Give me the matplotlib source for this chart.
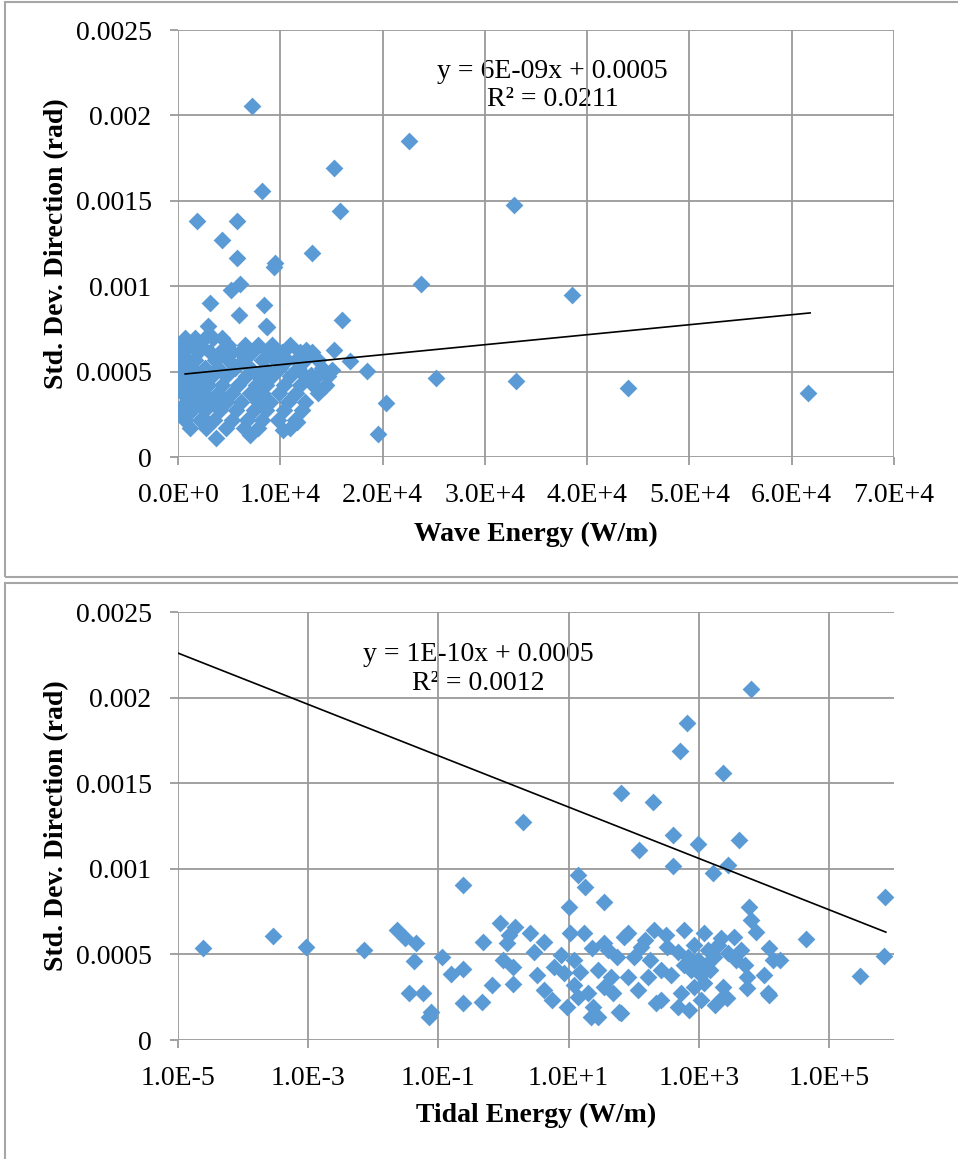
import numpy as np
import matplotlib.pyplot as plt
from matplotlib.patches import Rectangle
from matplotlib.ticker import FixedLocator, FixedFormatter, NullLocator

# Wave energy (W/m) vs std. dev. of direction (rad)
wave_x = [7230, 22580, 15250, 1860, 5770, 8210, 15840, 32840, 4300, 5770,
          13100, 9480, 9380, 23750, 38500, 3130, 8410, 6060, 5180, 5960,
          8600, 16030, 2930, 12510, 15250, 16810, 15050, 18470, 25220, 33040,
          43990, 61580, 20330, 19550, 3710, 7040, 14270, 13000, 11630, 10260,
          8700,
          680, 1660, 2640, 3420, 4300,
          390, 1170, 2150, 4890, 6550, 7820, 9190, 10950,
          590, 1960, 3130, 4110, 5280, 6060, 7230, 8800, 10170, 11930, 13100,
          200, 980, 1660, 3620, 4890, 6350, 8210, 9480, 10660, 11540, 12410, 13690,
          490, 1370, 2640, 3910, 5570, 7040, 8500, 9970, 11730, 14080,
          290, 1080, 2150, 3320, 4690, 6650, 7820, 9190, 10950, 12410, 13590, 14660,
          590, 1760, 2930, 4300, 5870, 7620, 8600, 10360, 11930, 13200, 14470,
          390, 1170, 2540, 3910, 5280, 7040, 8210, 9870, 11540, 13690,
          780, 1960, 3320, 4690, 6160, 7820, 8990, 10750, 12410,
          200, 1370, 2640, 4110, 5670, 7430, 8600, 10360, 12120,
          680, 2150, 3520, 5280, 6740, 8210, 9770, 11440,
          1170, 2740, 4690, 6450, 7820, 10950,
          391, 684, 2639]
wave_y = [0.002055, 0.00185, 0.00169, 0.00138, 0.00138, 0.001557, 0.00144, 0.001475, 0.00127, 0.001165,
          0.001194, 0.001136, 0.00111, 0.00101, 0.000948, 0.000902, 0.00089, 0.00101, 0.00098, 0.00083,
          0.000767, 0.000802, 0.000767, 0.000627, 0.000627, 0.000562, 0.000509, 0.000503, 0.000463, 0.000445,
          0.000404, 0.000375, 0.000316, 0.000135, 0.000111, 0.00013, 0.00041, 0.00048, 0.000205, 0.000158,
          0.00076,
          0.000697, 0.000697, 0.000697, 0.000697, 0.000697,
          0.000656, 0.000656, 0.000656, 0.000656, 0.000656, 0.000656, 0.000656, 0.000656,
          0.000615, 0.000615, 0.000615, 0.000615, 0.000615, 0.000615, 0.000615, 0.000615, 0.000615, 0.000615, 0.000615,
          0.000568, 0.000568, 0.000568, 0.000568, 0.000568, 0.000568, 0.000568, 0.000568, 0.000568, 0.000568, 0.000568, 0.000568,
          0.000521, 0.000521, 0.000521, 0.000521, 0.000521, 0.000521, 0.000521, 0.000521, 0.000521, 0.000521,
          0.000474, 0.000474, 0.000474, 0.000474, 0.000474, 0.000474, 0.000474, 0.000474, 0.000474, 0.000474, 0.000474, 0.000474,
          0.000422, 0.000422, 0.000422, 0.000422, 0.000422, 0.000422, 0.000422, 0.000422, 0.000422, 0.000422, 0.000422,
          0.000375, 0.000375, 0.000375, 0.000375, 0.000375, 0.000375, 0.000375, 0.000375, 0.000375, 0.000375,
          0.000322, 0.000322, 0.000322, 0.000322, 0.000322, 0.000322, 0.000322, 0.000322, 0.000322,
          0.000275, 0.000275, 0.000275, 0.000275, 0.000275, 0.000275, 0.000275, 0.000275, 0.000275,
          0.000217, 0.000217, 0.000217, 0.000217, 0.000217, 0.000217, 0.000217, 0.000217,
          0.00017, 0.00017, 0.00017, 0.00017, 0.00017, 0.00017,
          0.000258, 0.000217, 0.000217]

# Tidal energy (W/m) vs std. dev. of direction (rad)
tidal_x = [2.4e-5, 2.9e-4, 9.3e-4, 7.2e-3, 0.023, 0.031, 0.045, 0.042, 0.035, 0.059,
           0.078, 0.073, 0.115, 0.243, 0.158, 0.243, 0.243, 0.46, 0.66, 1.38,
           0.89, 1.5, 0.48, 1.2, 1.15, 2.6, 4.2, 2.9, 1.0, 1.38,
           3.3, 5.9, 8.4, 9.6, 13.8, 19.6, 24, 28, 22, 59,
           10.7, 17, 35, 70, 28, 45, 35, 49, 12, 15,
           2.0, 13.8, 18, 35, 10, 65, 195, 120, 400, 400,
           650, 510, 960, 1650, 2800, 2350, 4150, 6300, 7.2e5, 4.5e4,
           7.1e5, 3.0e5, 5900, 6300, 7600, 1.2e4, 1.4e4, 1.0e4, 1.2e4, 5600,
           2700, 81, 204, 590, 1200, 2200, 3500, 100, 130, 330,
           480, 680, 960, 1380, 1700, 2800, 4500, 81, 115, 165,
           260, 480, 840, 1200, 2400, 2400, 5600, 1.15e4, 1.8e4, 63,
           525, 760, 1070, 1500, 260, 180, 56, 40, 23, 7.6,
           12, 5.6, 4.2, 220, 1070, 1800, 700, 370, 3700, 5200,
           840, 1280, 590, 1950, 150, 310]
tidal_y = [0.000537, 0.000607, 0.000543, 0.000526, 0.000643, 0.000596, 0.000567, 0.000461, 0.000275, 0.000275,
           0.000164, 0.000134, 0.000485, 0.000905, 0.000386, 0.000415, 0.000216, 0.000222, 0.000321, 0.000327,
           0.000683, 0.00066, 0.000572, 0.000613, 0.000567, 0.000625, 0.000572, 0.000514, 0.000467, 0.000426,
           0.00038, 0.000426, 0.000391, 0.000193, 0.000251, 0.000275, 0.000193, 0.000134, 0.000134, 0.000164,
           0.000625, 0.000625, 0.000567, 0.000602, 0.000409, 0.000368, 0.00031, 0.000275, 0.000467, 0.000397,
           0.001273, 0.000964, 0.000894, 0.000806, 0.000777, 0.001443, 0.00139, 0.00111, 0.0012, 0.001016,
           0.00185, 0.001688, 0.001145, 0.000975, 0.001022, 0.00156, 0.001168, 0.00205, 0.000835, 0.00059,
           0.00049, 0.000374, 0.000777, 0.0007, 0.00063, 0.000537, 0.000467, 0.00038, 0.000263, 0.000304,
           0.000245, 0.000625, 0.000643, 0.000643, 0.000625, 0.000596, 0.000602, 0.000485, 0.000543, 0.000543,
           0.000514, 0.000485, 0.000467, 0.000526, 0.000485, 0.000508, 0.000526, 0.000368, 0.000292, 0.000368,
           0.000234, 0.000193, 0.00031, 0.000333, 0.00031, 0.000251, 0.000368, 0.000275, 0.000467, 0.000158,
           0.000275, 0.000409, 0.00038, 0.000409, 0.000409, 0.000467, 0.000485, 0.000526, 0.000537, 0.000497,
           0.000321, 0.000234, 0.000292, 0.000216, 0.000234, 0.000204, 0.000175, 0.00038, 0.000467, 0.000438,
           0.000555, 0.000438, 0.000438, 0.000555, 0.000584, 0.000613]

# trend lines as drawn on the chart
wave_trend_x = [700, 61800]
wave_slope, wave_intercept = 5.85e-9, 0.000482
tidal_trend_x = [1e-5, 7.5e5]
tidal_trend_y = [0.00226, 0.00063]

y_ticks = [0, 0.0005, 0.001, 0.0015, 0.002, 0.0025]
y_labels = ['0', '0.0005', '0.001', '0.0015', '0.002', '0.0025']
wave_ticks = [0, 1e4, 2e4, 3e4, 4e4, 5e4, 6e4, 7e4]
wave_labels = ['0.0E+0', '1.0E+4', '2.0E+4', '3.0E+4', '4.0E+4', '5.0E+4', '6.0E+4', '7.0E+4']
tidal_ticks = [1e-5, 1e-3, 1e-1, 1e1, 1e3, 1e5]
tidal_labels = ['1.0E-5', '1.0E-3', '1.0E-1', '1.0E+1', '1.0E+3', '1.0E+5']

plt.rcParams['font.family'] = 'Liberation Serif'
blue = '#5B9BD5'
grid_c = '#9a9a9a'

fig = plt.figure(figsize=(9.58, 11.59), dpi=100)

# panel frames
fig.add_artist(Rectangle((5 / 958, 1 - 577 / 1159), 1.0, 575 / 1159, transform=fig.transFigure,
                         fill=False, edgecolor='#a6a6a6', linewidth=1.5))
fig.add_artist(Rectangle((5 / 958, -0.05), 1.0, 1 - 583 / 1159 + 0.05, transform=fig.transFigure,
                         fill=False, edgecolor='#a6a6a6', linewidth=1.5))

W, H = 958, 1159
ax1 = fig.add_axes([178 / W, 1 - 457 / H, 716 / W, 427 / H])
ax2 = fig.add_axes([178 / W, 1 - 1040 / H, 716 / W, 428 / H])


def style(ax):
    for s in ax.spines.values():
        s.set_visible(False)
    ax.set_axisbelow(True)
    ax.grid(True, which='major', color=grid_c, linewidth=1.3)
    ax.tick_params(which='major', length=6, width=1.3, color=grid_c, labelsize=20)
    ax.tick_params(axis='y', pad=13)
    ax.tick_params(axis='x', pad=13)
    ax.set_ylim(0, 0.0025)
    ax.yaxis.set_major_locator(FixedLocator(y_ticks))
    ax.yaxis.set_major_formatter(FixedFormatter(y_labels))
    ax.set_ylabel('Std. Dev. Direction (rad)', fontsize=20, fontweight='bold')
    ax.yaxis.set_label_coords(-0.152, 0.5)


# top: wave energy
style(ax1)
ax1.scatter(wave_x, wave_y, marker='D', s=82, color=blue, linewidths=0, zorder=2)
tx = np.array(wave_trend_x)
ax1.plot(tx, wave_slope * tx + wave_intercept, color='black', linewidth=1.2, zorder=3)
ax1.set_xlim(0, 7e4)
ax1.xaxis.set_major_locator(FixedLocator(wave_ticks))
ax1.xaxis.set_major_formatter(FixedFormatter(wave_labels))
ax1.set_xlabel('Wave Energy (W/m)', fontsize=20, fontweight='bold')
ax1.xaxis.set_label_coords(0.5, -0.152)
ax1.text(0.523, 0.870, 'y = 6E-09x + 0.0005\nR² = 0.0211', transform=ax1.transAxes,
         ha='center', va='center', fontsize=20, linespacing=1.2, zorder=0.4)

# bottom: tidal energy
style(ax2)
ax2.set_xscale('log')
ax2.scatter(tidal_x, tidal_y, marker='D', s=82, color=blue, linewidths=0, zorder=2)
ax2.plot(tidal_trend_x, tidal_trend_y, color='black', linewidth=1.2, zorder=3)
ax2.set_xlim(1e-5, 1e6)
ax2.xaxis.set_major_locator(FixedLocator(tidal_ticks))
ax2.xaxis.set_major_formatter(FixedFormatter(tidal_labels))
ax2.xaxis.set_minor_locator(NullLocator())
ax2.set_xlabel('Tidal Energy (W/m)', fontsize=20, fontweight='bold')
ax2.xaxis.set_label_coords(0.5, -0.147)
ax2.text(0.419, 0.867, 'y = 1E-10x + 0.0005\nR² = 0.0012', transform=ax2.transAxes,
         ha='center', va='center', fontsize=20, linespacing=1.2, zorder=0.4)

plt.savefig('out.png', dpi=100)
